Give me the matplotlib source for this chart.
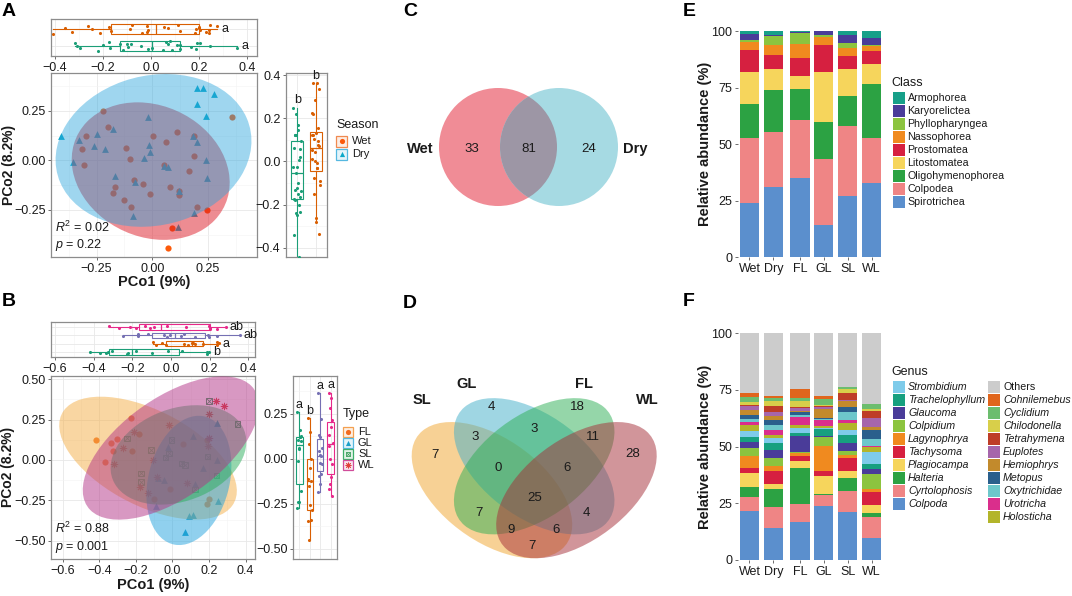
import numpy as np
import matplotlib.pyplot as plt
from matplotlib.patches import Ellipse, Circle, Rectangle
from matplotlib.ticker import FixedLocator, FuncFormatter

plt.rcParams['font.family'] = ['Liberation Sans', 'DejaVu Sans']
plt.rcParams['mathtext.fontset'] = 'custom'
plt.rcParams['mathtext.rm'] = 'Liberation Sans'
plt.rcParams['mathtext.it'] = 'Liberation Sans:italic'

# ---------------- A: PCoA by season ----------------
wet_x = [-0.221, -0.199, -0.297, -0.315, -0.307, -0.116, -0.099, 0.005, 0.062, 0.110,
         0.187, 0.190, 0.166, 0.051, -0.084, -0.169, -0.176, -0.041, -0.011, -0.128,
         -0.096, 0.080, 0.120, 0.122, 0.203, 0.248, 0.087, 0.071, 0.358]
wet_y = [0.250, 0.170, 0.124, 0.057, -0.024, 0.060, 0.005, 0.122, 0.094, 0.144,
         0.121, 0.022, -0.052, -0.024, -0.099, -0.133, -0.163, -0.121, -0.172, -0.200,
         -0.237, -0.136, -0.153, -0.177, -0.234, -0.250, -0.343, -0.444, 0.220]
dry_x = [-0.410, -0.357, -0.331, -0.262, -0.247, -0.214, -0.176, -0.166, -0.078, -0.086,
         -0.018, -0.015, -0.011, -0.036, 0.069, 0.122, 0.114, 0.188, 0.185, 0.202,
         0.242, 0.245, 0.200, 0.230, 0.276, 0.203, 0.241, 0.054]
dry_y = [0.122, -0.007, 0.102, 0.072, 0.133, 0.055, 0.156, -0.079, -0.111, -0.279,
         0.220, 0.077, 0.044, 0.013, -0.032, -0.153, -0.338, -0.264, 0.122, 0.094,
         0.002, -0.091, 0.363, 0.363, 0.334, 0.284, 0.225, -0.029]
season_top_letters = ['a', 'a']
season_right_letters = ['b', 'b']
season_stats = ('0.02', '0.22')

# ---------------- B: PCoA by type ----------------
fl_x = [-0.229, -0.420, -0.338, -0.305, -0.323, -0.369, -0.183, -0.223, 0.059, 0.187,
        -0.099, -0.014, 0.199, 0.187]
fl_y = [0.258, 0.124, 0.103, 0.128, 0.058, -0.010, 0.159, 0.056, 0.097, 0.124,
        -0.242, -0.180, -0.242, -0.275]
gl_x = [0.241, 0.110, -0.023, 0.241, 0.168, -0.077, -0.045, 0.123, -0.090, 0.247,
        0.090, 0.114, 0.068]
gl_y = [0.227, 0.151, 0.083, 0.000, -0.052, -0.114, -0.124, -0.151, -0.285, -0.254,
        -0.345, -0.340, -0.448]
sl_x = [0.199, 0.356, -0.250, -0.117, -0.005, -0.019, -0.037, 0.050, 0.068, 0.192,
        0.241, -0.172, -0.172, 0.123]
sl_y = [0.366, 0.223, 0.134, 0.062, 0.124, 0.041, 0.014, -0.021, -0.031, 0.021,
        -0.097, -0.083, -0.138, -0.182]
wl_x = [0.236, 0.283, 0.201, -0.019, -0.209, -0.269, -0.318, -0.108, 0.196, -0.087,
        -0.178, -0.132, 0.077, 0.201]
wl_y = [0.368, 0.337, 0.285, 0.217, 0.176, 0.072, -0.027, 0.000, 0.089, -0.103,
        -0.165, -0.207, -0.141, 0.134]
types = ['FL', 'GL', 'SL', 'WL']
type_top_letters = ['b', 'a', 'ab', 'ab']
type_right_letters = ['a', 'b', 'a', 'a']
type_stats = ('0.88', '0.001')

# ---------------- C / D: Venn counts ----------------
c_sets = ['Wet', 'Dry']
c_counts = [33, 81, 24]          # Wet only, shared, Dry only
d_sets = ['SL', 'GL', 'FL', 'WL']
d_regions = ['SL', 'GL', 'FL', 'WL', 'SL&GL', 'GL&FL', 'FL&WL', 'SL&FL', 'GL&WL',
             'SL&WL', 'SL&GL&FL', 'GL&FL&WL', 'SL&FL&WL', 'SL&GL&WL', 'ALL']
d_counts = [7, 4, 18, 28, 3, 3, 11, 7, 4, 7, 0, 6, 9, 6, 25]

# ---------------- E / F: relative abundance ----------------
samples = ['Wet', 'Dry', 'FL', 'GL', 'SL', 'WL']
classes = ['Spirotrichea', 'Colpodea', 'Oligohymenophorea', 'Litostomatea', 'Prostomatea',
           'Nassophorea', 'Phyllopharyngea', 'Karyorelictea', 'Armophorea']
spirotrichea = [24.1, 30.9, 35.1, 14.0, 27.2, 32.6]
colpodea = [28.7, 24.2, 25.5, 29.4, 30.7, 19.9]
oligohymenophorea = [14.7, 18.7, 13.7, 16.5, 13.4, 24.0]
litostomatea = [14.4, 9.3, 5.7, 22.0, 11.8, 9.1]
prostomatea = [9.6, 6.5, 8.2, 12.1, 5.7, 5.6]
nassophorea = [3.6, 4.1, 6.2, 3.2, 3.8, 2.0]
phyllopharyngea = [0.8, 3.9, 4.9, 1.2, 2.1, 0.8]
karyorelictea = [2.9, 0.8, 0.1, 1.4, 3.4, 2.9]
armophorea = [1.2, 1.6, 0.6, 0.2, 1.9, 3.1]
class_colors = ['#5B8FCD', '#EF8585', '#2CA243', '#F6D55C', '#D62040',
                '#F08A1F', '#8CC43F', '#4A3C99', '#17A089']

genera = ['Colpoda', 'Cyrtolophosis', 'Halteria', 'Plagiocampa', 'Tachysoma', 'Lagynophrya',
          'Colpidium', 'Glaucoma', 'Trachelophyllum', 'Strombidium', 'Holosticha', 'Urotricha',
          'Oxytrichidae', 'Metopus', 'Hemiophrys', 'Euplotes', 'Tetrahymena', 'Chilodonella',
          'Cyclidium', 'Cohnilemebus', 'Others']
genus_wet = [21.6, 6.3, 4.2, 6.4, 1.9, 5.2, 3.8, 2.4, 2.2, 2.9, 2.7, 1.1, 1.5, 1.5, 2.2, 2.0, 0.6, 0.9, 2.2, 2.1, 26.3]
genus_dry = [14.0, 9.2, 8.0, 2.2, 5.9, 2.3, 3.3, 3.6, 3.0, 2.2, 1.2, 2.5, 2.2, 2.2, 1.7, 1.5, 2.9, 2.2, 1.2, 1.1, 27.6]
genus_fl = [16.6, 8.1, 15.7, 3.0, 2.6, 1.1, 0.4, 7.2, 1.2, 2.2, 1.5, 3.2, 1.2, 1.0, 0.7, 1.2, 0.5, 2.7, 1.2, 4.0, 24.7]
genus_gl = [23.8, 4.9, 0.4, 7.7, 2.2, 11.3, 4.1, 0.3, 2.9, 0.5, 1.0, 2.7, 0.3, 0.4, 4.0, 0.9, 0.5, 0.5, 2.5, 1.5, 27.6]
genus_sl = [21.3, 9.1, 5.6, 3.0, 5.9, 1.4, 1.9, 3.3, 3.4, 2.5, 2.9, 1.2, 3.5, 2.6, 2.3, 0.7, 2.9, 1.8, 0.7, 0.2, 23.8]
genus_wl = [9.6, 9.5, 1.5, 3.7, 5.8, 1.2, 6.6, 2.2, 2.3, 5.1, 2.1, 0.7, 3.1, 4.0, 1.4, 3.7, 3.2, 0.8, 2.2, 0.0, 31.3]
genus_colors = ['#5B8FCD', '#EF8585', '#2CA243', '#F6D55C', '#D62040', '#F08A1F',
                '#8CC43F', '#4A3C99', '#17A07F', '#7ECBEA', '#B3B52A', '#DA2E8C',
                '#6DC7CB', '#2A5F8C', '#C28A2C', '#A666AB', '#BE3D27', '#D8CF4A',
                '#6CBD6E', '#E0651C', '#CCCCCC']

# ---------------- figure ----------------
W, H = 1072, 596
fig = plt.figure(figsize=(W / 100, H / 100), dpi=100)
TXT = '#1a1a1a'
DARK2 = ['#1B9E77', '#D95F02', '#7570B3', '#E7298A']


def px_axes(x0, y0, x1, y1):
    return fig.add_axes([x0 / W, 1 - y1 / H, (x1 - x0) / W, (y1 - y0) / H])


def num_fmt(d):
    return FuncFormatter(lambda v, p: f'{v + 0.0:.{d}f}'.replace('-', '\u2212'))


def frame(ax):
    ax.set_facecolor('white')
    for s in ax.spines.values():
        s.set_color('#8c8c8c')
        s.set_linewidth(0.9)
    ax.grid(which='major', color='#e8e8e8', lw=0.6)
    ax.grid(which='minor', color='#f3f3f3', lw=0.4)
    ax.set_axisbelow(True)
    ax.tick_params(which='major', length=2.5, width=0.6, color='#555555',
                   labelsize=9, labelcolor=TXT, pad=1.5)
    ax.tick_params(which='minor', length=0)


def set_ticks(axis, major, dec):
    axis.set_major_locator(FixedLocator(major))
    mids = [(a + b) / 2 for a, b in zip(major[:-1], major[1:])]
    step = major[1] - major[0]
    axis.set_minor_locator(FixedLocator([major[0] - step / 2] + mids + [major[-1] + step / 2]))
    axis.set_major_formatter(num_fmt(dec))


def marg_box(ax, groups, colors, letters, horizontal, jw):
    for i, (vals, col, let) in enumerate(zip(groups, colors, letters)):
        pos = i + 1
        bp = ax.boxplot(vals, positions=[pos], widths=0.62, vert=not horizontal,
                        showfliers=False, showcaps=False, patch_artist=True,
                        boxprops=dict(facecolor='none', edgecolor=col, lw=0.8),
                        whiskerprops=dict(color=col, lw=0.8),
                        medianprops=dict(color=col, lw=0.9))
        jit = ((np.arange(len(vals)) * 0.618034) % 1 - 0.5) * jw
        if horizontal:
            ax.scatter(vals, pos + jit, s=5, color=col, lw=0, zorder=3)
            hi = bp['whiskers'][1].get_xdata()[1]
            ax.annotate(let, (hi, pos), xytext=(3, 0), textcoords='offset points',
                        ha='left', va='center', fontsize=9, color=TXT)
        else:
            ax.scatter(pos + jit, vals, s=5, color=col, lw=0, zorder=3)
            hi = bp['whiskers'][1].get_ydata()[1]
            ax.annotate(let, (pos, hi), xytext=(0, 1), textcoords='offset points',
                        ha='center', va='bottom', fontsize=9, color=TXT)


def conf_ellipse(ax, x, y, r, color, alpha):
    x = np.asarray(x)
    y = np.asarray(y)
    vals, vecs = np.linalg.eigh(np.cov(x, y))
    ang = np.degrees(np.arctan2(vecs[1, 1], vecs[0, 1]))
    ax.add_patch(Ellipse((x.mean(), y.mean()), 2 * r * np.sqrt(vals[1]), 2 * r * np.sqrt(vals[0]),
                         angle=ang, fc=color, ec='none', alpha=alpha, zorder=3))


# ---- A ----
axA = px_axes(51, 73, 257, 257)
frame(axA)
axA.scatter(wet_x, wet_y, s=20, marker='o', color='#FC5A0A', lw=0, zorder=2)
axA.scatter(dry_x, dry_y, s=24, marker='^', color='#0BA8C8', lw=0, zorder=2)
conf_ellipse(axA, wet_x, wet_y, 2.0, '#DD1A26', 0.5)
conf_ellipse(axA, dry_x, dry_y, 2.1, '#2AA5DD', 0.45)
axA.set_xlim(-0.455, 0.471)
axA.set_ylim(-0.487, 0.44)
set_ticks(axA.xaxis, [-0.25, 0.0, 0.25], 2)
set_ticks(axA.yaxis, [-0.25, 0.0, 0.25], 2)
axA.text(0.02, 0.135, r'$R^2$' + f' = {season_stats[0]}', transform=axA.transAxes, fontsize=9, color=TXT)
axA.text(0.02, 0.05, r'$p$' + f' = {season_stats[1]}', transform=axA.transAxes, fontsize=9, color=TXT)

axAt = px_axes(51, 19, 257, 56)
frame(axAt)
marg_box(axAt, [wet_x, dry_x], DARK2[:2], season_top_letters, True, 0.55)
axAt.set_xlim(-0.417, 0.442)
axAt.set_ylim(0.4, 2.6)
set_ticks(axAt.xaxis, [-0.4, -0.2, 0.0, 0.2, 0.4], 1)
axAt.set_yticks([1, 2])
axAt.tick_params(axis='y', length=0, labelleft=False)

axAr = px_axes(286, 73, 327, 257)
frame(axAr)
marg_box(axAr, [wet_y, dry_y], DARK2[:2], season_right_letters, False, 0.45)
axAr.set_ylim(-0.443, 0.41)
axAr.set_xlim(0.4, 2.6)
set_ticks(axAr.yaxis, [-0.4, -0.2, 0.0, 0.2, 0.4], 1)
axAr.set_xticks([1, 2])
axAr.tick_params(axis='x', length=0, labelbottom=False)

# ---- B ----
type_x = [fl_x, gl_x, sl_x, wl_x]
type_y = [fl_y, gl_y, sl_y, wl_y]
pt_cols = ['#F26B1F', '#1A9FC9', '#3A9E5C', '#E0403C']
ell_cols = ['#F4AE46', '#22A3DE', '#2DAE5C', '#B33386']
ell_scale = [2.2, 1.95, 2.1, 2.35]
axB = px_axes(51, 376, 255, 559)
frame(axB)
axB.scatter(fl_x, fl_y, s=20, marker='o', color=pt_cols[0], lw=0, zorder=2)
axB.scatter(gl_x, gl_y, s=24, marker='^', color=pt_cols[1], lw=0, zorder=2)
axB.scatter(sl_x, sl_y, s=16, marker='s', facecolor='none', edgecolor=pt_cols[2], lw=0.7, zorder=2)
axB.scatter(sl_x, sl_y, s=12, marker='x', color=pt_cols[2], lw=0.6, zorder=2)
axB.scatter(wl_x, wl_y, s=22, marker=(8, 2, 0), color=pt_cols[3], lw=0.7, zorder=2)
for xs, ys, c, r in zip(type_x, type_y, ell_cols, ell_scale):
    conf_ellipse(axB, xs, ys, r, c, 0.5)
axB.set_xlim(-0.664, 0.451)
axB.set_ylim(-0.614, 0.52)
set_ticks(axB.xaxis, [-0.6, -0.4, -0.2, 0.0, 0.2, 0.4], 1)
set_ticks(axB.yaxis, [-0.5, -0.25, 0.0, 0.25, 0.5], 2)
axB.text(0.02, 0.14, r'$R^2$' + f' = {type_stats[0]}', transform=axB.transAxes, fontsize=9, color=TXT)
axB.text(0.02, 0.05, r'$p$' + f' = {type_stats[1]}', transform=axB.transAxes, fontsize=9, color=TXT)

axBt = px_axes(51, 322, 255, 357)
frame(axBt)
marg_box(axBt, type_x, DARK2, type_top_letters, True, 0.4)
axBt.set_xlim(-0.62, 0.435)
axBt.set_ylim(0.4, 4.6)
set_ticks(axBt.xaxis, [-0.6, -0.4, -0.2, 0.0, 0.2, 0.4], 1)
axBt.set_yticks([1, 2, 3, 4])
axBt.tick_params(axis='y', length=0, labelleft=False)

axBr = px_axes(293, 376, 337, 559)
frame(axBr)
marg_box(axBr, type_y, DARK2, type_right_letters, False, 0.4)
axBr.set_ylim(-0.556, 0.46)
axBr.set_xlim(0.4, 4.6)
set_ticks(axBr.yaxis, [-0.5, -0.25, 0.0, 0.25], 2)
axBr.set_xticks([1, 2, 3, 4])
axBr.tick_params(axis='x', length=0, labelbottom=False)

# ---- E / F stacked bars ----
xpos = np.array([0, 1, 2.12, 3.12, 4.12, 5.12])
class_stack = [spirotrichea, colpodea, oligohymenophorea, litostomatea, prostomatea,
               nassophorea, phyllopharyngea, karyorelictea, armophorea]
genus_stack = np.array([genus_wet, genus_dry, genus_fl, genus_gl, genus_sl, genus_wl]).T

axE = px_axes(738, 31, 883, 257)
axF = px_axes(738, 333, 883, 560)
for ax, stack, cols in [(axE, class_stack, class_colors), (axF, genus_stack, genus_colors)]:
    bottom = np.zeros(len(samples))
    for vals, col in zip(stack, cols):
        ax.bar(xpos, vals, bottom=bottom, width=0.8, color=col, lw=0)
        bottom += np.asarray(vals)
    ax.set_xlim(-0.48, 5.6)
    ax.set_ylim(0, 100)
    ax.set_xticks(xpos, samples)
    ax.set_yticks([0, 25, 50, 75, 100])
    for s in ax.spines.values():
        s.set_visible(False)
    ax.tick_params(length=2.5, width=0.6, color='#555555', labelsize=9, labelcolor=TXT, pad=1.5)

# ---- D: four-set Venn ----
axD = px_axes(393.4, 363.5, 675, 596)
axD.set_xlim(0, 1)
axD.set_ylim(0.027, 1)
axD.axis('off')
d_geom = [(0.35, 0.47, 135), (0.50, 0.57, 135), (0.50, 0.57, 45), (0.65, 0.47, 45)]
d_cols = ['#F1A52D', '#41AFC9', '#2DAF55', '#A52D37']
for (cx, cy, ang), col in zip(d_geom, d_cols):
    axD.add_patch(Ellipse((cx, cy), 0.70, 0.40, angle=ang, fc=col, ec='none', alpha=0.5))
d_label_pos = [(0.102, 0.847), (0.261, 0.914), (0.677, 0.914), (0.901, 0.847)]
for name, (lx, ly) in zip(d_sets, d_label_pos):
    axD.text(lx, ly, name, fontsize=10.5, fontweight='bold', ha='center', va='center', color=TXT)
d_pos = [(0.148, 0.615), (0.347, 0.817), (0.653, 0.820), (0.848, 0.622), (0.290, 0.694),
         (0.499, 0.725), (0.710, 0.694), (0.304, 0.376), (0.686, 0.376), (0.493, 0.237),
         (0.373, 0.564), (0.615, 0.564), (0.418, 0.304), (0.576, 0.304), (0.500, 0.436)]
for cnt, (px_, py_) in zip(d_counts, d_pos):
    axD.text(px_, py_, str(cnt), fontsize=9.5, ha='center', va='center', color=TXT)

# ---- overlay: letters, labels, legends, panel C ----
ov = fig.add_axes([0, 0, 1, 1])
ov.set_xlim(0, W)
ov.set_ylim(H, 0)
ov.axis('off')

for lab, (lx, ly) in zip('ABCDEF', [(9, 12), (9, 302), (410, 12), (410, 303), (689, 12), (689, 302)]):
    ov.text(lx, ly, lab, fontsize=14, fontweight='bold', ha='center', va='center', color='black')

ov.text(154, 282, 'PCo1 (9%)', fontsize=10.5, fontweight='bold', ha='center', va='center', color=TXT)
ov.text(153, 585, 'PCo1 (9%)', fontsize=10.5, fontweight='bold', ha='center', va='center', color=TXT)
ov.text(9, 165, 'PCo2 (8.2%)', fontsize=10, fontweight='bold', ha='center', va='center', rotation=90, color=TXT)
ov.text(8, 467, 'PCo2 (8.2%)', fontsize=10, fontweight='bold', ha='center', va='center', rotation=90, color=TXT)
ov.text(705, 144, 'Relative abundance (%)', fontsize=10.5, fontweight='bold', ha='center', va='center',
        rotation=90, color=TXT)
ov.text(705, 447, 'Relative abundance (%)', fontsize=10.5, fontweight='bold', ha='center', va='center',
        rotation=90, color=TXT)

# season legend
ov.text(336, 125, 'Season', fontsize=9, va='center', color=TXT)
for i, (name, mk, pc, ec) in enumerate(zip(['Wet', 'Dry'], ['o', '^'], ['#FC5A0A', '#0BA8C8'],
                                           ['#F08A50', '#55B8E0'])):
    yc = 141 + 13 * i
    ov.add_patch(Rectangle((336, yc - 5.5), 11, 11, fc=ec, alpha=0.15, ec='none'))
    ov.add_patch(Rectangle((336, yc - 5.5), 11, 11, fc='none', ec=ec, lw=0.9))
    ov.scatter([341.5], [yc], s=14, marker=mk, color=pc, lw=0)
    ov.text(352, yc, name, fontsize=8, va='center', color=TXT)

# type legend
ov.text(343, 414, 'Type', fontsize=9, va='center', color=TXT)
for i, name in enumerate(types):
    yc = 432 + 11 * i
    ec = ['#F4A050', '#55B8E0', '#3DAF6A', '#D04C9A'][i]
    ov.add_patch(Rectangle((343, yc - 5), 10, 10, fc=ec, alpha=0.15, ec='none'))
    ov.add_patch(Rectangle((343, yc - 5), 10, 10, fc='none', ec=ec, lw=0.9))
    if name == 'SL':
        ov.scatter([348], [yc], s=12, marker='s', facecolor='none', edgecolor=pt_cols[2], lw=0.6)
        ov.scatter([348], [yc], s=9, marker='x', color=pt_cols[2], lw=0.5)
    else:
        mk = {'FL': 'o', 'GL': '^', 'WL': (8, 2, 0)}[name]
        ov.scatter([348], [yc], s=14, marker=mk, color=pt_cols[i], lw=0.6 if name == 'WL' else 0)
    ov.text(358, yc, name, fontsize=8, va='center', color=TXT)

# class legend
ov.text(891.5, 83, 'Class', fontsize=9, va='center', color=TXT)
for i, (name, col) in enumerate(zip(classes[::-1], class_colors[::-1])):
    yc = 98 + 13 * i
    ov.add_patch(Rectangle((892.5, yc - 6), 12, 12, fc=col, ec='none'))
    ov.text(907.5, yc, name, fontsize=7.7, va='center', color=TXT)

# genus legend (two columns)
ov.text(891.5, 372, 'Genus', fontsize=9, va='center', color=TXT)
leg_names = genera[9::-1] + genera[:9:-1]
leg_cols = genus_colors[9::-1] + genus_colors[:9:-1]
for i, (name, col) in enumerate(zip(leg_names, leg_cols)):
    colm, row = (0, i) if i < 10 else (1, i - 10)
    xk = 893 + 95 * colm
    yc = 387 + 13 * row
    ov.add_patch(Rectangle((xk, yc - 6), 12, 12, fc=col, ec='none'))
    ov.text(xk + 15, yc, name, fontsize=7.7, va='center', color=TXT,
            style='normal' if name == 'Others' else 'italic')

# panel C: two-set Venn
wet_c = Circle((498, 147), 59, fc='#F08C96', ec='none')
dry_c = Circle((559, 147), 59, fc='#A6DAE3', ec='none')
ov.add_patch(wet_c)
ov.add_patch(dry_c)
shared = Circle((559, 147), 59, fc='#9D96A5', ec='none')
ov.add_patch(shared)
shared.set_clip_path(wet_c)
ov.text(420, 149, c_sets[0], fontsize=10.5, fontweight='bold', ha='center', va='center', color=TXT)
ov.text(635, 149, c_sets[1], fontsize=10.5, fontweight='bold', ha='center', va='center', color=TXT)
for cnt, cx in zip(c_counts, [472, 528.5, 589]):
    ov.text(cx, 149, str(cnt), fontsize=9.5, ha='center', va='center', color=TXT)

fig.savefig('out.png', dpi=100, facecolor='white')
